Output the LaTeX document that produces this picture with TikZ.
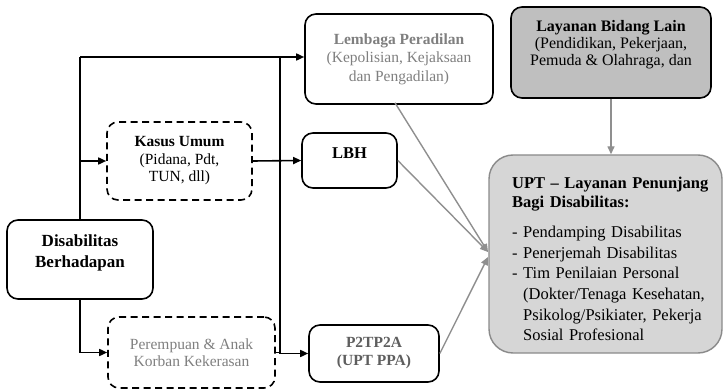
\documentclass[tikz,border=0pt]{standalone}
\usepackage{fontspec}
\setmainfont{Liberation Serif}
\usetikzlibrary{arrows.meta,calc}
\definecolor{txtgray}{HTML}{7F7F7F}
\definecolor{darkgraytxt}{HTML}{5E5E5E}
\definecolor{layfill}{HTML}{BFBFBF}
\definecolor{uptfill}{HTML}{D6D6D6}
\definecolor{uptborder}{HTML}{8A8A8A}
\definecolor{grayline}{HTML}{8F8F8F}
\tikzset{
  box/.style={draw=black, line width=1.6pt, rounded corners=11pt, align=center, inner sep=2pt,
    font=\fontsize{15.5}{17.5}\selectfont},
  dbox/.style={box, dash pattern=on 7pt off 4.5pt},
  lbl/.style={align=center, inner sep=0pt},
  conn/.style={line width=1.6pt, -{Triangle[length=8pt,width=7pt]}},
  plain/.style={line width=1.6pt},
  gconn/.style={draw=grayline, line width=1.4pt, -{Triangle[length=8pt,width=7pt]}},
}
\begin{document}
\begin{tikzpicture}[x=1pt,y=-1pt]
\useasboundingbox (0,0) rectangle (723,390);
% boxes
\node[box, minimum width=146pt, minimum height=79pt] (dis) at (80,259.5) {};
\node[lbl, font=\fontsize{17}{21}\selectfont\bfseries] (distext) at (80,252.5)
  {Disabilitas\\Berhadapan};
\node[dbox, minimum width=145pt, minimum height=78pt] (kasus) at (179.5,161)
  {\textbf{Kasus Umum}\\(Pidana, Pdt,\\TUN, dll)};
\node[dbox, minimum width=167pt, minimum height=71pt, text=txtgray, font=\fontsize{15.5}{16.5}\selectfont] (perem) at (191.5,352.5)
  {Perempuan \& Anak\\Korban Kekerasan};
\node[box, minimum width=188pt, minimum height=90pt, text=txtgray, font=\fontsize{15.5}{18.5}\selectfont] (lemb) at (399,59)
  {\textbf{Lembaga Peradilan}\\(Kepolisian, Kejaksaan\\dan Pengadilan)};
\node[box, minimum width=95pt, minimum height=55pt] (lbh) at (349.5,160.5) {};
\node[lbl, font=\fontsize{16.5}{18}\selectfont\bfseries] (lbhtext) at (349.5,153) {LBH};
\node[box, minimum width=130pt, minimum height=57pt, text=darkgraytxt, font=\fontsize{15.5}{18}\selectfont\bfseries] (p2) at (374,353.5)
  {P2TP2A\\(UPT PPA)};
\node[box, fill=layfill, minimum width=200pt, minimum height=91pt] (lay) at (611,52.5) {};
\node[lbl, font=\fontsize{16}{17}\selectfont] (laytext) at (611,45)
  {\textbf{Layanan Bidang Lain}\\(Pendidikan, Pekerjaan,\\Pemuda \& Olahraga, dan};
\node[draw=uptborder, fill=uptfill, line width=1.4pt, rounded corners=24pt,
  minimum width=233pt, minimum height=198pt] (upt) at (605.5,254) {};
\node[anchor=north west, inner sep=0pt, text width=198pt, align=left,
  font=\fontsize{16.5}{20.7}\selectfont] (upttext) at (512,177)
  {\textbf{\makebox[198pt][s]{UPT -- Layanan Penunjang}}\\[-1.7pt]
   \textbf{Bagi Disabilitas:}\\[9pt]
   \makebox[11pt][l]{-}Pendamping Disabilitas\\
   \makebox[11pt][l]{-}Penerjemah Disabilitas\\
   \makebox[11pt][l]{-}Tim Penilaian Personal\\
   \hspace*{11pt}(Dokter/Tenaga Kesehatan,\\
   \hspace*{11pt}Psikolog/Psikiater, Pekerja\\
   \hspace*{11pt}Sosial Profesional};
% coordinates
\coordinate (top) at (80,57);
\coordinate (j1) at (280,57);
\coordinate (j2) at (280,353.5);
\coordinate (conv1) at (488,252);
\coordinate (conv2) at (488,257);
% connectors
\draw[plain] (dis.north) -- (top);
\draw[conn] (top) -- (top -| lemb.west);
\draw[conn] (dis.north |- kasus.west) -- (kasus.west);
\draw[conn] (dis.south) |- (perem.west);
\draw[conn] (kasus.east) -- (lbh.west);
\draw[plain] (j1) -- (j2);
\draw[conn] (j2) -- (p2.west);
\draw[plain] (perem.east) -- (perem.east -| j2);
\draw[gconn] ($(lemb.south)+(-4,-2)$) -- (conv1);
\draw[gconn] (lbh.east) -- (conv1);
\draw[gconn] (p2.east) -- (conv2);
\draw[gconn] (lay.south) -- (lay.south |- upt.north);
\end{tikzpicture}
\end{document}
